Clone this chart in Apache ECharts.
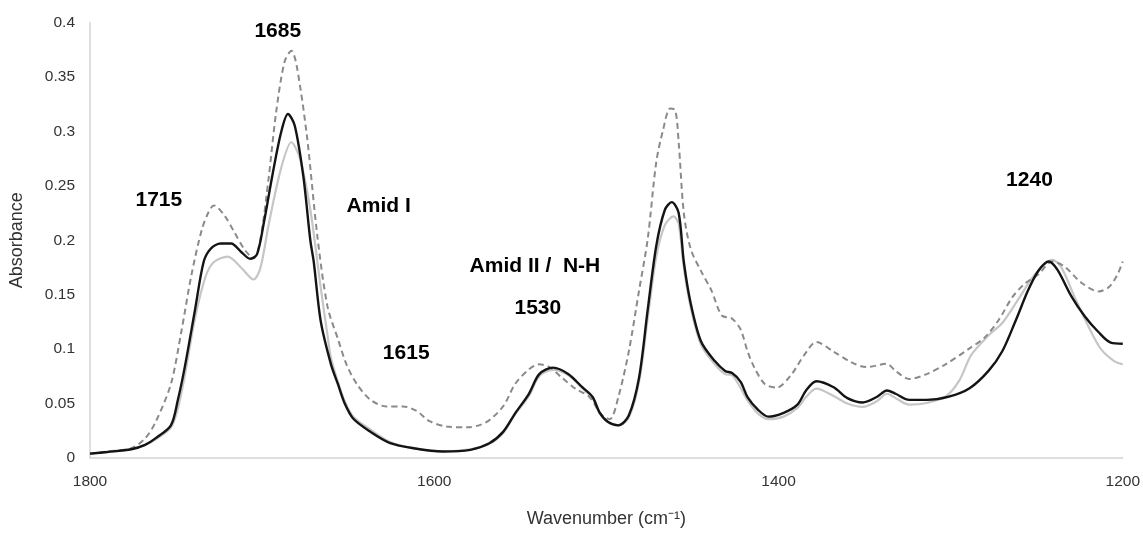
<!DOCTYPE html>
<html>
<head>
<meta charset="utf-8">
<script src="https://cdn.jsdelivr.net/npm/echarts@6/dist/echarts.min.js"></script>
<style>
html,body{margin:0;padding:0;background:#fff;}
#chart{width:1143px;height:533px;}
</style>
</head>
<body>
<div id="chart"></div>
<script>
// Wavenumber (cm-1) / absorbance pairs
const blackWn = [1800,1790,1776,1768,1762,1753,1749,1745,1739,1734,1730,1724,1718,1712,1707,1703,1699,1694,1689,1685,1681,1676,1672,1670,1666,1660,1656,1652,1647,1637,1626,1612,1595,1579,1568,1560,1553,1545,1539,1531,1522,1514,1508,1504,1499,1493,1487,1481,1476,1471,1466,1462,1458,1455,1451,1445,1437,1431,1427,1422,1418,1412,1406,1397,1389,1384,1378,1368,1360,1351,1343,1337,1332,1324,1314,1301,1289,1278,1270,1262,1255,1249,1243,1238,1230,1222,1214,1207,1200];
const blackAbs = [0.004,0.0055,0.008,0.012,0.018,0.03,0.053,0.083,0.136,0.18,0.192,0.197,0.197,0.189,0.183,0.187,0.216,0.26,0.299,0.316,0.305,0.258,0.2,0.18,0.126,0.086,0.068,0.05,0.036,0.024,0.014,0.009,0.006,0.0075,0.0135,0.024,0.041,0.059,0.077,0.083,0.077,0.065,0.056,0.042,0.033,0.030,0.039,0.074,0.136,0.195,0.228,0.235,0.225,0.18,0.142,0.107,0.089,0.080,0.078,0.070,0.056,0.0445,0.038,0.0415,0.049,0.062,0.0705,0.065,0.055,0.051,0.056,0.062,0.059,0.0534,0.0534,0.0563,0.064,0.080,0.098,0.127,0.154,0.172,0.1805,0.173,0.149,0.130,0.1155,0.106,0.105];

const grayWn = [1800,1790,1776,1768,1762,1753,1749,1745,1739,1733,1728,1720,1712,1705,1701,1696,1689,1683,1678,1672,1666,1662,1660,1656,1652,1647,1637,1626,1612,1595,1579,1568,1560,1553,1545,1539,1531,1522,1514,1508,1504,1499,1493,1487,1481,1476,1471,1466,1461,1458,1455,1451,1445,1437,1431,1427,1418,1412,1406,1397,1389,1384,1378,1368,1360,1351,1343,1337,1332,1324,1314,1303,1295,1288,1278,1270,1261,1251,1241,1236,1228,1220,1213,1205,1200];
const grayAbs = [0.004,0.0055,0.008,0.012,0.017,0.028,0.045,0.075,0.128,0.166,0.18,0.185,0.1745,0.164,0.1745,0.216,0.266,0.29,0.275,0.228,0.157,0.1125,0.092,0.07,0.052,0.038,0.026,0.015,0.009,0.006,0.008,0.013,0.023,0.04,0.057,0.075,0.081,0.076,0.064,0.055,0.041,0.033,0.030,0.037,0.070,0.128,0.185,0.214,0.222,0.215,0.175,0.138,0.104,0.086,0.077,0.076,0.053,0.041,0.0357,0.038,0.046,0.056,0.0637,0.057,0.050,0.047,0.052,0.059,0.055,0.049,0.0505,0.0563,0.071,0.0947,0.1125,0.124,0.145,0.1687,0.182,0.176,0.148,0.121,0.1007,0.089,0.086];

const dashWn = [1800,1790,1776,1768,1762,1753,1747,1741,1735,1731,1728,1722,1716,1710,1705,1701,1696,1692,1687,1683,1680,1674,1668,1662,1656,1651,1645,1637,1628,1618,1610,1603,1593,1581,1570,1560,1553,1545,1539,1533,1526,1518,1510,1503,1498,1493,1487,1481,1476,1471,1467,1463,1460,1458,1455,1451,1445,1439,1433,1427,1422,1418,1414,1408,1401,1393,1385,1378,1368,1358,1349,1337,1332,1324,1314,1303,1289,1280,1272,1264,1257,1249,1241,1234,1224,1214,1208,1203,1200];
const dashAbs = [0.004,0.006,0.009,0.018,0.0327,0.068,0.1155,0.1687,0.21,0.2263,0.232,0.223,0.207,0.191,0.1834,0.201,0.26,0.316,0.3638,0.374,0.361,0.296,0.205,0.139,0.1095,0.086,0.068,0.0534,0.0474,0.0474,0.043,0.034,0.029,0.0282,0.0327,0.0474,0.068,0.0814,0.086,0.0835,0.074,0.0637,0.0563,0.04,0.0357,0.0563,0.0977,0.154,0.201,0.272,0.3017,0.321,0.3195,0.29,0.225,0.192,0.1716,0.154,0.131,0.128,0.118,0.098,0.083,0.068,0.0646,0.0756,0.0947,0.1066,0.0977,0.0882,0.0835,0.0865,0.080,0.0725,0.077,0.086,0.1007,0.111,0.127,0.148,0.16,0.1687,0.1805,0.176,0.161,0.153,0.157,0.1687,0.1805];

// Annotation texts and their anchor positions in data space
const annotTexts = ['1685','1715','Amid I','1615','Amid II /  N-H','1530','1240'];
const annotWn    = [1690.9,1760,1632.3,1616.3,1541.5,1539.8,1254.2];
const annotAbs   = [0.392,0.237,0.231,0.0962,0.176,0.138,0.255];

const xTicks = [1800,1600,1400,1200];

function pairs(xs, ys){ return xs.map((x,i)=>[x, ys[i]]); }

const chart = echarts.init(document.getElementById('chart'), null, {renderer:'canvas'});
const FONT = 'Liberation Sans, Arial, sans-serif';

const option = {
  animation: false,
  backgroundColor: '#ffffff',
  grid: {left: 84, right: 18, top: 22.5, bottom: 59.5, containLabel: false},
  xAxis: {
    type: 'value',
    inverse: true,
    min: 1200, max: 1800, interval: 200,
    name: 'Wavenumber (cm\u207B\u00B9)',
    nameLocation: 'middle',
    nameGap: 52,
    nameTextStyle: {fontFamily: FONT, fontSize: 18, color: '#333333'},
    axisLine: {show: true, lineStyle: {color: '#d4d4d4', width: 1.5}},
    axisTick: {show: false},
    splitLine: {show: false},
    axisLabel: {fontFamily: FONT, fontSize: 15.5, color: '#333333', margin: 16,
      formatter: v => xTicks.includes(v) ? String(v) : ''}
  },
  yAxis: {
    type: 'value',
    min: 0, max: 0.4, interval: 0.05,
    name: 'Absorbance',
    nameLocation: 'middle',
    nameGap: 64,
    nameTextStyle: {fontFamily: FONT, fontSize: 18, color: '#333333'},
    axisLine: {show: true, lineStyle: {color: '#d4d4d4', width: 1.5}},
    axisTick: {show: false},
    splitLine: {show: false},
    axisLabel: {fontFamily: FONT, fontSize: 15.5, color: '#333333', margin: 15,
      formatter: v => String(parseFloat(v.toFixed(2)))}
  },
  series: [
    {
      name: 'gray', type: 'line', data: pairs(grayWn, grayAbs),
      showSymbol: false, smooth: 0.3, z: 2,
      lineStyle: {color: '#c6c6c6', width: 2.2}
    },
    {
      name: 'dashed', type: 'line', data: pairs(dashWn, dashAbs),
      showSymbol: false, smooth: 0.3, z: 3,
      lineStyle: {color: '#8a8a8a', width: 2, type: [6, 4]}
    },
    {
      name: 'black', type: 'line', data: pairs(blackWn, blackAbs),
      showSymbol: false, smooth: 0.3, z: 4,
      lineStyle: {color: '#141414', width: 2.4}
    },
    {
      name: 'annotations', type: 'scatter', z: 5,
      symbolSize: 0, silent: true,
      itemStyle: {color: '#000000', opacity: 1},
      data: annotTexts.map((t,i)=>({value:[annotWn[i], annotAbs[i]], name:t})),
      label: {
        show: true, position: 'inside',
        formatter: p => p.name,
        fontFamily: FONT, fontSize: 21, fontWeight: 'bold', color: '#000000',
        textBorderWidth: 0, textShadowBlur: 0, opacity: 1
      }
    }
  ]
};
chart.setOption(option);
</script>
</body>
</html>
